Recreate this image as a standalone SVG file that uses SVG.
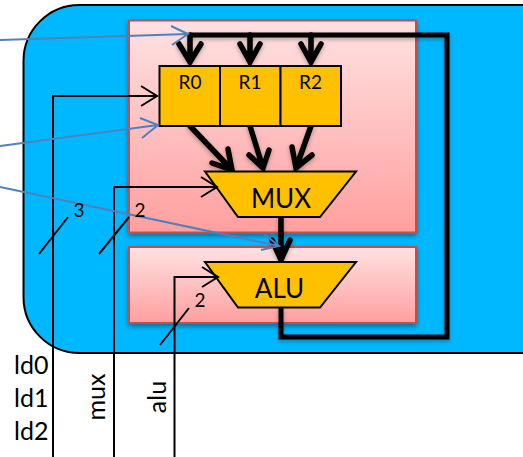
<svg xmlns="http://www.w3.org/2000/svg" width="523" height="457" viewBox="0 0 523 457">
<style>
text{font-family:"Lato","Open Sans","Liberation Sans",sans-serif;fill:#000}
.panel{fill:url(#pg);stroke:#c0504d;stroke-width:2;filter:url(#sh)}
.blk{fill:#ffc000;stroke:#000;stroke-width:2}
.thin{fill:none;stroke:#000;stroke-width:2}
.bus{fill:none;stroke:#000;stroke-width:5;filter:url(#sh2)}
.head{fill:none;stroke:#000;stroke-width:5.5;stroke-linecap:round;stroke-linejoin:miter;filter:url(#sh2)}
.blue{fill:none;stroke:#4f81bd;stroke-width:2}
.r{font-size:19px;text-anchor:middle}
.m{font-size:26px;text-anchor:middle}
.s{font-size:19px;text-anchor:middle}
.l{font-size:25px}
</style>
<defs>
<linearGradient id="pg" x1="0" y1="0" x2="0" y2="1"><stop offset="0" stop-color="#ffe2e2"/><stop offset="1" stop-color="#ff9f9f"/></linearGradient>
<filter id="sh" x="-10%" y="-10%" width="120%" height="120%"><feDropShadow dx="0" dy="2.5" stdDeviation="2.5" flood-color="#000" flood-opacity="0.4"/></filter>
<filter id="sh2" x="-20%" y="-20%" width="140%" height="140%"><feDropShadow dx="0" dy="2" stdDeviation="2" flood-color="#000" flood-opacity="0.3"/></filter>
</defs>
<g id="chip"><rect x="23.500" y="5" width="560" height="348" rx="56" ry="56" fill="#00b8ff" stroke="#000" stroke-width="2"/></g>
<g id="panel-top"><rect class="panel" x="129" y="20.500" width="287" height="212"/></g>
<g id="panel-bottom"><rect class="panel" x="129" y="247" width="287" height="76"/></g>
<g id="connectors-thick">
<path class="bus" d="M190 35H447V337H281V307"/>
<path class="head" d="M190 35V62M179 44L190 62L201 44M250 35V62M240 44L250 62L260 44M311 35V62M301 44L311 62L321 44"/>
<path class="head" d="M190 126L232 170M212 163L232 170L228 149M250 126L263 168M249 155L263 168L269 150M311 126L296 168M292 147L296 168L312 155M281 217V260M272 240L281 260L290 240"/>
</g>
<g id="R0"><rect class="blk" x="159.500" y="66" width="60.500" height="60"/><text class="r" x="190" y="89">R0</text></g>
<g id="R1"><rect class="blk" x="220" y="66" width="60.500" height="60"/><text class="r" x="250" y="89">R1</text></g>
<g id="R2"><rect class="blk" x="280.500" y="66" width="60.500" height="60"/><text class="r" x="310.500" y="89">R2</text></g>
<g id="MUX"><path class="blk" d="M205 171.500H356L320 217H238Z"/><text class="m" x="281" y="208">MUX</text></g>
<g id="ALU"><path class="blk" d="M205 262H356L320 307.500H238Z"/><text class="m" x="279.500" y="298">ALU</text></g>
<g id="connectors-thin">
<path class="thin" d="M53 457V96H157M141 86L157 96L141 106"/>
<path class="thin" d="M114 457V187H217M201 177L217 187L201 197"/>
<path class="thin" d="M174.500 457V277H218M202 267L218 277L202 287"/>
<path class="thin" d="M39 254L68 217M99 254L129 217M160 345L189 308"/>
</g>
<g id="connectors-blue">
<path class="blue" d="M0 40L188 34M171 26L188 34L172 45"/>
<path class="blue" d="M0 146L158 125M140 118L158 125L142 138"/>
<path class="blue" d="M0 187L279 246M264 234L279 246L261 250"/>
</g>
<g id="labels">
<text class="s" x="79" y="217">3</text>
<text class="s" x="140" y="217">2</text>
<text class="s" x="200" y="307">2</text>
<text class="l" x="14" y="374">ld0</text>
<text class="l" x="14" y="407">ld1</text>
<text class="l" x="14" y="440">ld2</text>
<text class="l" text-anchor="middle" transform="translate(105 397) rotate(-90)">mux</text>
<text class="l" text-anchor="middle" transform="translate(165.500 397) rotate(-90)">alu</text>
</g>
</svg>
